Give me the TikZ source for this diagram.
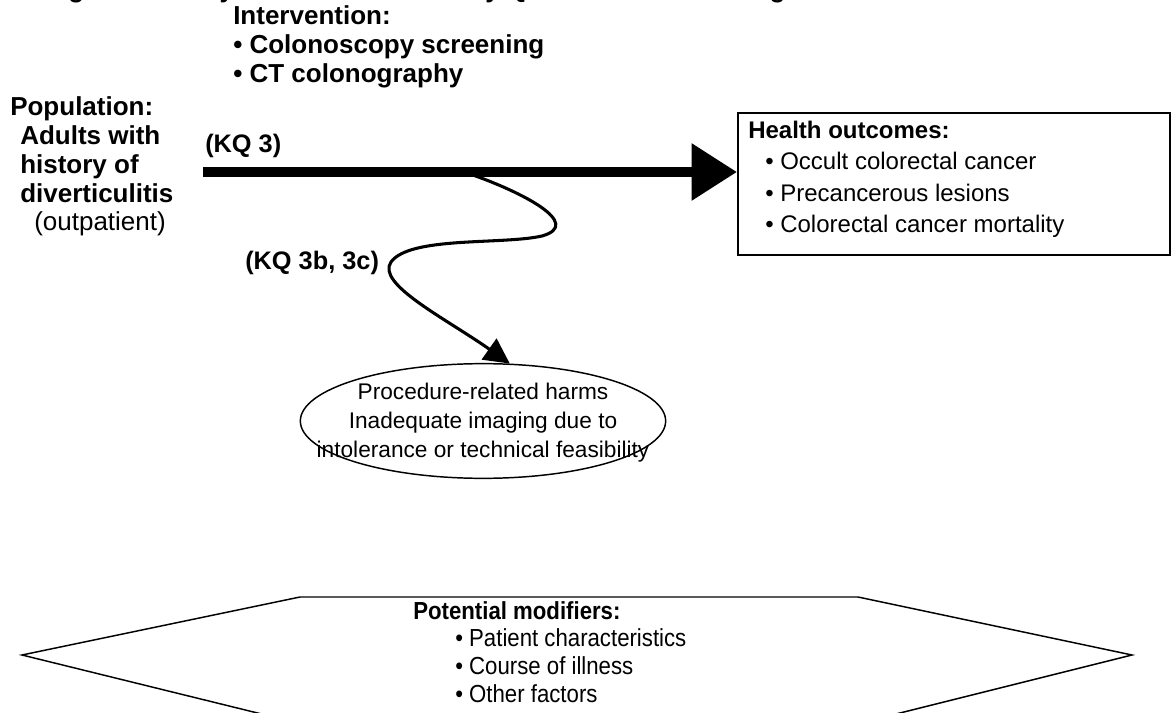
\documentclass[tikz,border=0pt]{standalone}
\usepackage{fontspec}
\setmainfont{Liberation Sans}
\newfontfamily\condensed{Liberation Sans}[FakeStretch=0.9]
\usetikzlibrary{arrows.meta,shapes.geometric}
\begin{document}
\begin{tikzpicture}[x=0.75pt,y=-0.75pt,
  txt/.style={inner sep=0pt, anchor=base west},
  bigb/.style={txt, font=\fontsize{19.5}{22}\selectfont\bfseries},
  bigr/.style={txt, font=\fontsize{19.5}{22}\selectfont},
  kqlab/.style={txt, font=\fontsize{19}{22}\selectfont\bfseries},
  outb/.style={txt, font=\fontsize{18}{21}\selectfont\bfseries},
  outr/.style={txt, font=\fontsize{18}{21}\selectfont},
  modb/.style={txt, font=\condensed\fontsize{18.5}{21}\selectfont\bfseries},
  modr/.style={txt, font=\condensed\fontsize{18.5}{21}\selectfont},
  outbox/.style={draw, line width=1.5pt, minimum width=324pt, minimum height=106.5pt, inner sep=0pt},
  harmshape/.style={draw, ellipse, line width=1.1pt, minimum width=274pt, minimum height=86pt, inner sep=0pt},
  harmtext/.style={inner sep=0pt, align=center, font=\fontsize{17}{21.75}\selectfont},
  mainarrow/.style={line width=7.5pt, -{Triangle[length=34pt,width=41pt]}},
  curvearrow/.style={line width=2.3pt, -{Triangle[length=19pt,width=19pt]}},
  hexline/.style={line width=1.1pt, line join=miter}
]
\useasboundingbox (0,0) rectangle (1172,713);

% clipped title line (only its lowest part shows in the reference)
\node[bigb] (title) at (45,-2) {Figure 4. Analytic framework for Key Question 3: Screening for colorectal cancer};

% intervention
\node[bigb] (int1) at (233,25) {Intervention:};
\node[bigb] (int2) at (233,54) {\textbullet\ Colonoscopy screening};
\node[bigb] (int3) at (233,83) {\textbullet\ CT colonography};

% population
\node[bigb] (pop1) at (10,116) {Population:};
\node[bigb] (pop2) at (20,145) {Adults with};
\node[bigb] (pop3) at (20,174) {history of};
\node[bigb] (pop4) at (20,203) {diverticulitis};
\node[bigr] (pop5) at (34,231) {(outpatient)};

% outcomes box
\node[outbox] (outcomes) at (954,184) {};
\node[outb] (out0) at (748,139) {Health outcomes:};
\node[outr] (out1) at (765,170) {\textbullet\ Occult colorectal cancer};
\node[outr] (out2) at (765,202) {\textbullet\ Precancerous lesions};
\node[outr] (out3) at (765,233) {\textbullet\ Colorectal cancer mortality};

% KQ labels
\node[kqlab] (kq3) at (205,153) {(KQ 3)};
\node[kqlab] (kq3bc) at (245,270) {(KQ 3b, 3c)};

% harms ellipse
\node[harmshape] (harms) at (483,421) {};
\node[harmtext] (harmstxt) at ([yshift=-1.5pt]harms.center) {Procedure-related harms\\Inadequate imaging due to\\intolerance or technical feasibility};

% arrows
\coordinate (kqstart) at (203,172);
\coordinate (branch) at (470,174);
\draw[mainarrow] (kqstart) -- (outcomes.west |- kqstart);
\draw[curvearrow] (branch) .. controls (522,192) and (584,224) .. (542,236)
  .. controls (502,245) and (410,236) .. (391,262)
  .. controls (376,284) and (445,318) .. (harms.65);

% modifiers hexagon
\coordinate (hl) at (22,655);
\coordinate (htl) at (300,597);
\coordinate (htr) at (858,597);
\coordinate (hr) at (1132,655);
\coordinate (hbr) at (872,720);
\coordinate (hbl) at (286,720);
\draw[hexline] (hl) -- (htl) -- (htr) -- (hr) -- (hbr) -- (hbl) -- cycle;
\node[modb] (mod0) at (413,619) {Potential modifiers:};
\node[modr] (mod1) at (455,646) {\textbullet\ Patient characteristics};
\node[modr] (mod2) at (455,674) {\textbullet\ Course of illness};
\node[modr] (mod3) at (455,702) {\textbullet\ Other factors};
\end{tikzpicture}
\end{document}
